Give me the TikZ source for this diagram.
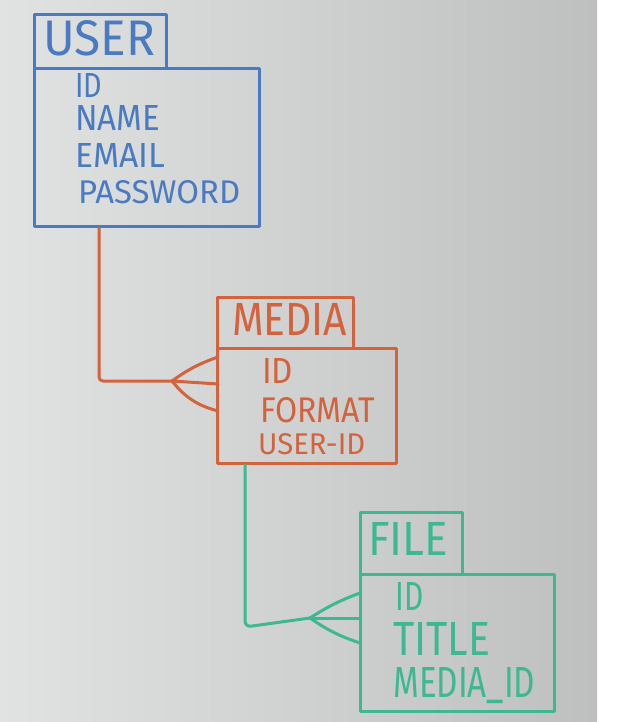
\documentclass[tikz,border=0pt]{standalone}
\usepackage{fontspec}
\setmainfont{Fira Sans}
\definecolor{mblue}{HTML}{4A7BC2}
\definecolor{morange}{HTML}{D4623D}
\definecolor{mteal}{HTML}{3DB893}
\definecolor{boardL}{HTML}{E0E3E2}
\definecolor{boardR}{HTML}{BDC0BE}
\newcommand{\rtxt}[3]{\resizebox{#1pt}{#2pt}{#3}}
\begin{document}
\begin{tikzpicture}[x=1pt,y=-1pt,
  box/.style={draw, line width=2.8pt, line join=round, inner sep=0pt, anchor=north west},
  lbl/.style={anchor=north west, inner sep=0pt},
  link/.style={line width=3pt, line cap=round, line join=round}]
\useasboundingbox (0,0) rectangle (628,722);
\fill[white] (0,0) rectangle (628,722);
\fill[left color=boardL, right color=boardR] (0,0) rectangle (597,722);

% USER
\node[box, draw=mblue, minimum width=132pt, minimum height=54pt] (userT) at (33,13) {};
\node[box, draw=mblue, minimum width=225pt, minimum height=158pt] (userB) at (33,67) {};
\node[lbl, text=mblue] (userN) at (43,20) {\rtxt{112}{35}{USER}};
\node[lbl, text=mblue] (userF1) at (75,73) {\rtxt{27}{24}{ID}};
\node[lbl, text=mblue] (userF2) at (75,105) {\rtxt{85}{25}{NAME}};
\node[lbl, text=mblue] (userF3) at (75,143) {\rtxt{90}{24}{EMAIL}};
\node[lbl, text=mblue] (userF4) at (78,180) {\rtxt{162}{23}{PASSWORD}};

% MEDIA
\node[box, draw=morange, minimum width=136pt, minimum height=51pt] (mediaT) at (216,296) {};
\node[box, draw=morange, minimum width=179pt, minimum height=115pt] (mediaB) at (216,347) {};
\node[lbl, text=morange] (mediaN) at (232,303) {\rtxt{115}{32}{MEDIA}};
\node[lbl, text=morange] (mediaF1) at (262,358) {\rtxt{31}{25}{ID}};
\node[lbl, text=morange] (mediaF2) at (260,397) {\rtxt{115}{25}{FORMAT}};
\node[lbl, text=morange] (mediaF3) at (258,433) {\rtxt{107}{21}{USER-ID}};

% FILE
\node[box, draw=mteal, minimum width=102pt, minimum height=62pt] (fileT) at (359,511) {};
\node[box, draw=mteal, minimum width=194pt, minimum height=137pt] (fileB) at (359,573) {};
\node[lbl, text=mteal] (fileN) at (368,522) {\rtxt{80}{33}{FILE}};
\node[lbl, text=mteal] (fileF1) at (395,582) {\rtxt{28}{28}{ID}};
\node[lbl, text=mteal] (fileF2) at (393,622) {\rtxt{97}{33}{TITLE}};
\node[lbl, text=mteal] (fileF3) at (393,667) {\rtxt{142}{30}{MEDIA\_ID}};

% USER -> MEDIA (one to many)
\coordinate (oc) at (99,381);
\coordinate (oj) at (172,381);
\coordinate (ot1) at (218,357);
\coordinate (ot2) at (218,384);
\coordinate (ot3) at (218,411);
\draw[link, morange, rounded corners=4pt] (userB.south west -| oc) -- (oc) -- (oj);
\draw[link, morange] (oj) to[bend left=8] (ot1);
\draw[link, morange] (oj) -- (ot2);
\draw[link, morange] (oj) to[bend right=18] (ot3);

% MEDIA -> FILE (one to many)
\coordinate (gc) at (245,627);
\coordinate (gj) at (310,618);
\coordinate (gt1) at (360,593);
\coordinate (gt2) at (360,618);
\coordinate (gt3) at (360,643);
\draw[link, mteal, rounded corners=6pt] (mediaB.south west -| gc) -- (gc) -- (gj);
\draw[link, mteal] (gj) to[bend left=6] (gt1);
\draw[link, mteal] (gj) -- (gt2);
\draw[link, mteal] (gj) to[bend right=8] (gt3);
\end{tikzpicture}
\end{document}
